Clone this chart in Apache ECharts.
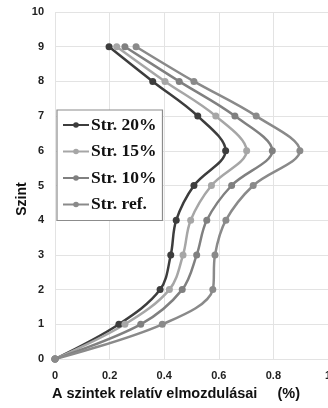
<!DOCTYPE html>
<html>
<head>
<meta charset="utf-8">
<script src="https://cdn.jsdelivr.net/npm/echarts@6/dist/echarts.min.js"></script>
<style>html,body{margin:0;padding:0;background:#fff;}#c{width:328px;height:408px;}</style>
</head>
<body>
<div id="c"></div>
<script>
const levels = [0, 1, 2, 3, 4, 5, 6, 7, 8, 9];
const seriesNames = ['Str. 20%', 'Str. 15%', 'Str. 10%', 'Str. ref.'];
const str20 = [0, 0.234, 0.385, 0.424, 0.444, 0.509, 0.625, 0.523, 0.358, 0.198];
const str15 = [0, 0.256, 0.419, 0.469, 0.497, 0.573, 0.702, 0.589, 0.403, 0.226];
const str10 = [0, 0.314, 0.466, 0.519, 0.556, 0.647, 0.796, 0.659, 0.455, 0.256];
const strRef = [0, 0.393, 0.578, 0.586, 0.626, 0.726, 0.897, 0.737, 0.509, 0.297];
const xTicks = [0, 0.2, 0.4, 0.6, 0.8, 1];
const yTicks = [0, 1, 2, 3, 4, 5, 6, 7, 8, 9, 10];

const colors = ['#3d3d3d', '#a6a6a6', '#808080', '#8a8a8a'];
const allData = [str20, str15, str10, strRef];

const chart = echarts.init(document.getElementById('c'));
chart.setOption({
  animation: false,
  grid: { left: 55, right: 0, top: 12, bottom: 49, containLabel: false, outerBoundsMode: 'none' },
  xAxis: {
    type: 'value', min: 0, max: 1, interval: 0.2,
    name: 'A szintek relatív elmozdulásai     (%)',
    nameLocation: 'middle', nameGap: 27,
    nameTextStyle: { fontFamily: 'Liberation Sans', fontWeight: 'bold', fontSize: 14.5, color: '#111', padding: [0, 31, 0, 0] },
    axisLine: { show: false }, axisTick: { show: false },
    axisLabel: { fontFamily: 'Liberation Sans', fontWeight: 'bold', fontSize: 11, color: '#222', margin: 11,
      formatter: v => { const t = xTicks.find(k => Math.abs(k - v) < 1e-9); return t === undefined ? '' : String(t); } },
    splitLine: { show: true, lineStyle: { color: '#e3e3e3', width: 1 } }
  },
  yAxis: {
    type: 'value', min: 0, max: 10, interval: 1,
    name: 'Szint', nameLocation: 'middle', nameGap: 26, nameMoveOverlap: false,
    nameTextStyle: { fontFamily: 'Liberation Sans', fontWeight: 'bold', fontSize: 14, color: '#111', padding: [0, 27, 0, 0] },
    axisLine: { show: false }, axisTick: { show: false },
    axisLabel: { fontFamily: 'Liberation Sans', fontWeight: 'bold', fontSize: 11, color: '#222', margin: 11,
      formatter: v => { const t = yTicks.find(k => k === v); return t === undefined ? '' : String(t); } },
    splitLine: { show: true, lineStyle: { color: '#e3e3e3', width: 1 } }
  },
  legend: {
    orient: 'vertical', left: 57, top: 110, width: 105,
    padding: [6, 6, 7, 5],
    backgroundColor: '#fff', borderColor: '#8c8c8c', borderWidth: 1.2,
    itemWidth: 26, itemHeight: 7, itemGap: 8.5,
    textStyle: { fontFamily: 'Liberation Serif', fontWeight: 'bold', fontSize: 17.5, color: '#111', lineHeight: 17, padding: [0, 0, 0, -3] },
    data: seriesNames
  },
  series: seriesNames.map((n, i) => ({
    name: n, type: 'line', smooth: 0.35,
    data: allData[i].map((x, j) => [x, levels[j]]),
    symbol: 'circle', symbolSize: 7,
    itemStyle: { color: colors[i] },
    lineStyle: { color: colors[i], width: 2.5 }
  }))
});
</script>
</body>
</html>
